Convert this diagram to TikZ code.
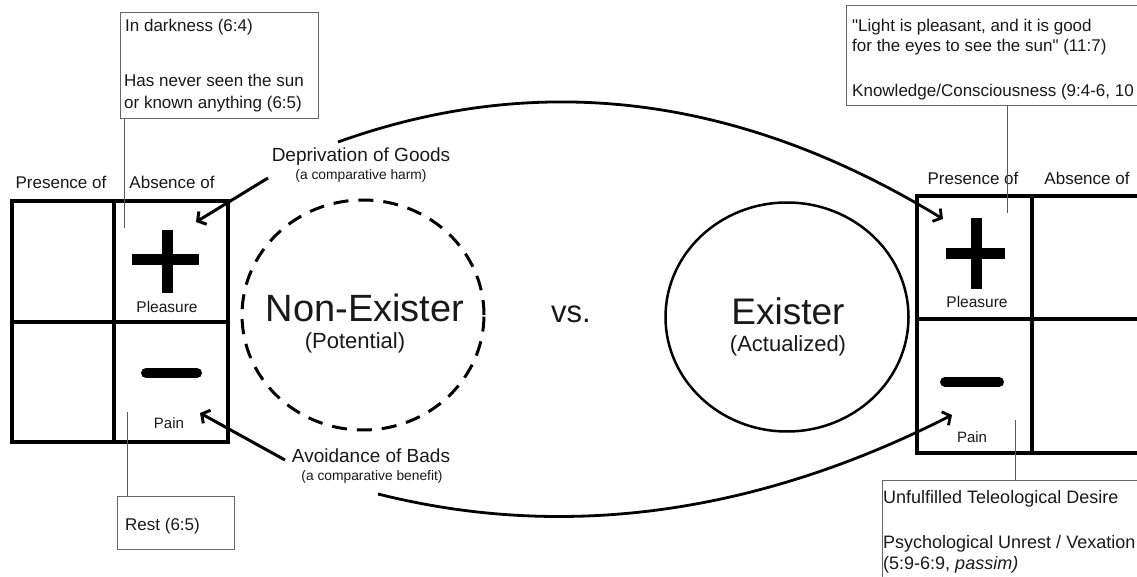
\documentclass[tikz,border=0pt]{standalone}
\usepackage{fontspec}
\setmainfont{Liberation Sans}
\newfontfamily\plainsans{Liberation Sans}
\usetikzlibrary{arrows.meta,shapes.geometric}
\newcommand\myfs[1]{\fontsize{#1}{#1}\selectfont}
\begin{document}
\begin{tikzpicture}[x=1pt,y=-1pt,
  gridline/.style={line width=3.5pt},
  sign/.style={line width=11pt},
  minus/.style={line width=10pt, line cap=round},
  callout/.style={draw=black!60, line width=1.1pt, rectangle, inner sep=0pt, anchor=north west},
  conn/.style={draw=black!65, line width=1pt},
  lbl/.style={inner sep=0pt, anchor=base, text=black!90},
  lblw/.style={inner sep=0pt, anchor=base west, text=black!90},
  arr/.style={line width=3pt, -{Straight Barb[length=6pt,width=15pt]}},
  curvearr/.style={line width=2.8pt, -{Straight Barb[length=6pt,width=15pt]}},
]
\clip (0,0) rectangle (1137,577);
\fill[white] (0,0) rectangle (1137,577);

% ---------- left grid ----------
\draw[gridline] (12,201) rectangle (228,442);
\draw[gridline] (114,201) -- (114,444);
\draw[gridline] (12,322) -- (228,322);
\draw[sign] (167,230) -- (167,293);
\draw[sign] (132,260) -- (199,260);
\draw[minus] (146,373) -- (197,373);

\node[lbl,font=\myfs{17}] (presL) at (61,189) {Presence of};
\node[lbl,font=\myfs{17}] (absL) at (172,189) {Absence of};
\node[lbl,font=\myfs{15.5}] (pleasL) at (167,312) {Pleasure};
\node[lbl,font=\myfs{15}] (painL) at (169,428) {Pain};

% left top callout
\node[callout, minimum width=198pt, minimum height=106pt] (cbA) at (120,12) {};
\node[lblw,font=\myfs{17}] (ta1) at (125,32) {In darkness (6:4)};
\node[lblw,font=\myfs{17}] (ta2) at (124,87) {Has never seen the sun};
\node[lblw,font=\myfs{17}] (ta3) at (124,109) {or known anything (6:5)};
\coordinate (cA) at (124,228);
\draw[conn] (cA |- cbA.south) -- (cA);

% left bottom callout
\node[callout, minimum width=117pt, minimum height=53pt] (cbB) at (117,496) {};
\node[lblw,font=\myfs{17}] (tb1) at (125,530) {Rest (6:5)};
\coordinate (cB) at (127,412);
\draw[conn] (cB |- cbB.north) -- (cB);

% ---------- middle ----------
\node[draw, dash pattern=on 15pt off 10pt, line width=3pt, ellipse,
      minimum width=242pt, minimum height=230pt] (nonex) at (363,315) {};
\node[lbl,font=\myfs{38}] (nonexT) at (365,321) {Non-Exister};
\node[lbl,font=\myfs{22}] (potT) at (355,348) {(Potential)};

\node[lbl,font=\myfs{31}] (vs) at (571,322) {vs.};

\node[draw, line width=2.5pt, ellipse,
      minimum width=243pt, minimum height=229pt] (ex) at (787,317) {};
\node[lbl,font=\myfs{37}] (exT) at (788,324) {Exister};
\node[lbl,font=\myfs{22}] (actT) at (788,351) {(Actualized)};

\node[lbl,font=\myfs{19}] (dep) at (361,162) {Deprivation of Goods};
\node[lbl,font=\myfs{13.8}] (depS) at (361,180) {(a comparative harm)};
\node[lbl,font=\myfs{19}] (avo) at (371,462) {Avoidance of Bads};
\node[lbl,font=\myfs{13.8}] (avoS) at (372,480) {(a comparative benefit)};

\coordinate (dgA) at (268,178);
\coordinate (dgB) at (196,222);
\draw[arr] (dgA) -- (dgB);
\coordinate (avA) at (285,460);
\coordinate (avB) at (200,413);
\draw[arr] (avA) -- (avB);

\coordinate (topS) at (338,142);
\coordinate (topE) at (943,219);
\draw[curvearr] (topS) .. controls (539,70) and (740,95) .. (topE);
\coordinate (botS) at (378,494);
\coordinate (botE) at (952,415);
\draw[curvearr] (botS) .. controls (565,541) and (757,514) .. (botE);

% ---------- right grid ----------
\draw[gridline] (917,196) rectangle (1160,453);
\draw[gridline] (1032,196) -- (1032,453);
\draw[gridline] (917,319) -- (1160,319);
\draw[sign] (976,218) -- (976,289);
\draw[sign] (946,254) -- (1005,254);
\draw[minus] (945,382) -- (999,382);

\node[lbl,font=\myfs{17}] (presR) at (973,185) {Presence of};
\node[lbl,font=\myfs{17}] (absR) at (1087,185) {Absence of};
\node[lbl,font=\myfs{15.5}] (pleasR) at (977,307) {Pleasure};
\node[lbl,font=\myfs{15}] (painR) at (972,442) {Pain};

% right top callout
\node[callout, minimum width=320pt, minimum height=100pt] (cbC) at (846,5) {};
\node[lblw,font=\plainsans\myfs{17}] (tc1) at (852,32) {"Light is pleasant, and it is good};
\node[lblw,font=\plainsans\myfs{17}] (tc2) at (852,52) {for the eyes to see the sun" (11:7)};
\node[lblw,font=\myfs{17}] (tc3) at (852,97) {Knowledge/Consciousness (9:4-6, 10};
\coordinate (cC) at (1007,213);
\draw[conn] (cC |- cbC.south) -- (cC);

% right bottom callout
\node[callout, minimum width=300pt, minimum height=120pt] (cbD) at (882,480) {};
\node[lblw,font=\myfs{18}] (td1) at (883,503) {Unfulfilled Teleological Desire};
\node[lblw,font=\myfs{18}] (td2) at (883,548) {Psychological Unrest / Vexation};
\node[lblw,font=\myfs{18}] (td3) at (883,569) {(5:9-6:9, \textit{passim)}};
\coordinate (cD) at (1015,420);
\draw[conn] (cD |- cbD.north) -- (cD);
\end{tikzpicture}
\end{document}
